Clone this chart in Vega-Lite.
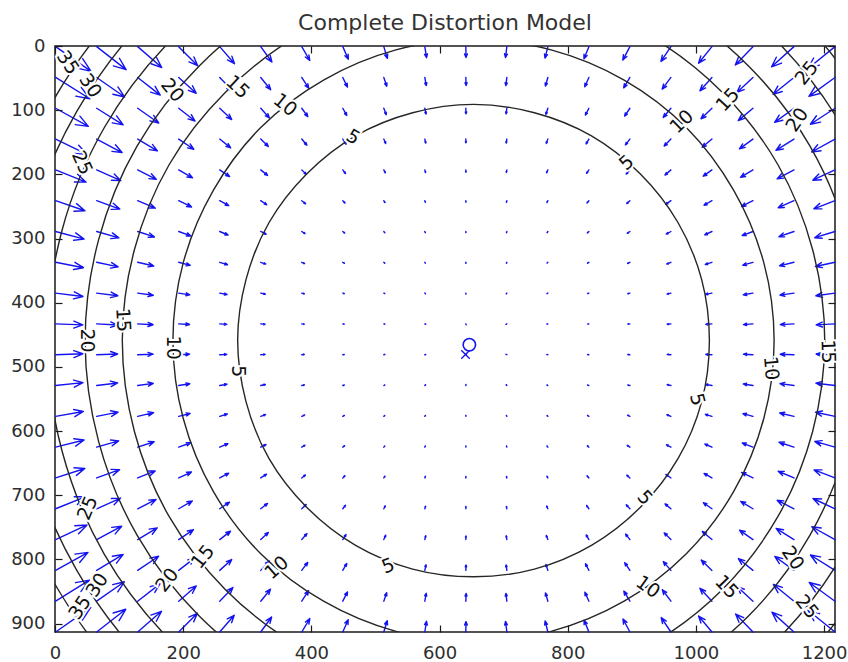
{
"$schema":"https://vega.github.io/schema/vega-lite/v6.json",
"width":780,"height":586,
"autosize":"none",
"padding":{"left":55,"top":46,"right":13,"bottom":30},
"background":"white",
"title":{"text":"Complete Distortion Model","font":"DejaVu Sans","fontSize":22,"fontWeight":"normal","color":"#333333","anchor":"middle","baseline":"alphabetic","offset":16,"dy":31},
"config":{"view":{"stroke":"#1a1a1a","strokeWidth":1.5},"axis":{"grid":false,"domain":false,"labelFont":"DejaVu Sans","labelFontSize":18,"labelColor":"#2e2e2e","tickColor":"#1a1a1a","tickSize":-7,"tickWidth":1.2,"labelFlush":false,"format":"d"}},
"resolve":{"axis":{"x":"independent","y":"independent"}},
"datasets":{
"arrows":[
{"x":1,"y":1,"d":125,"m":37.6},{"x":65,"y":1,"d":128,"m":32.5},{"x":129,"y":1,"d":131,"m":27.7},{"x":193,"y":1,"d":135,"m":23.4},{"x":257,"y":1,"d":139,"m":19.6},{"x":321,"y":1,"d":144,"m":16.5},{"x":385,"y":1,"d":150,"m":13.9},{"x":449,"y":1,"d":156,"m":11.9},{"x":513,"y":1,"d":163,"m":10.6},{"x":577,"y":1,"d":171,"m":9.7},{"x":641,"y":1,"d":179,"m":9.4},{"x":705,"y":1,"d":187,"m":9.5},{"x":769,"y":1,"d":194,"m":10.2},{"x":833,"y":1,"d":202,"m":11.4},{"x":897,"y":1,"d":208,"m":13.2},{"x":961,"y":1,"d":214,"m":15.5},{"x":1025,"y":1,"d":219,"m":18.5},{"x":1089,"y":1,"d":224,"m":22.1},{"x":1153,"y":1,"d":228,"m":26.2},{"x":1217,"y":1,"d":231,"m":30.8},
{"x":1,"y":49,"d":122,"m":35.0},{"x":65,"y":49,"d":125,"m":29.7},{"x":129,"y":49,"d":128,"m":24.9},{"x":193,"y":49,"d":132,"m":20.5},{"x":257,"y":49,"d":136,"m":16.8},{"x":321,"y":49,"d":141,"m":13.7},{"x":385,"y":49,"d":147,"m":11.2},{"x":449,"y":49,"d":154,"m":9.3},{"x":513,"y":49,"d":161,"m":8.0},{"x":577,"y":49,"d":170,"m":7.2},{"x":641,"y":49,"d":178,"m":6.9},{"x":705,"y":49,"d":187,"m":7.1},{"x":769,"y":49,"d":196,"m":7.7},{"x":833,"y":49,"d":204,"m":8.8},{"x":897,"y":49,"d":211,"m":10.5},{"x":961,"y":49,"d":217,"m":12.6},{"x":1025,"y":49,"d":222,"m":15.6},{"x":1089,"y":49,"d":227,"m":19.1},{"x":1153,"y":49,"d":231,"m":23.3},{"x":1217,"y":49,"d":234,"m":28.0},
{"x":1,"y":97,"d":119,"m":32.5},{"x":65,"y":97,"d":122,"m":27.2},{"x":129,"y":97,"d":125,"m":22.3},{"x":193,"y":97,"d":128,"m":18.0},{"x":257,"y":97,"d":133,"m":14.3},{"x":321,"y":97,"d":138,"m":11.3},{"x":385,"y":97,"d":144,"m":8.9},{"x":449,"y":97,"d":151,"m":7.1},{"x":513,"y":97,"d":159,"m":5.9},{"x":577,"y":97,"d":168,"m":5.1},{"x":641,"y":97,"d":178,"m":4.8},{"x":705,"y":97,"d":188,"m":4.9},{"x":769,"y":97,"d":198,"m":5.6},{"x":833,"y":97,"d":207,"m":6.6},{"x":897,"y":97,"d":214,"m":8.2},{"x":961,"y":97,"d":220,"m":10.4},{"x":1025,"y":97,"d":226,"m":13.2},{"x":1089,"y":97,"d":230,"m":16.7},{"x":1153,"y":97,"d":234,"m":20.8},{"x":1217,"y":97,"d":237,"m":25.5},
{"x":1,"y":145,"d":116,"m":30.4},{"x":65,"y":145,"d":118,"m":25.0},{"x":129,"y":145,"d":121,"m":20.0},{"x":193,"y":145,"d":124,"m":15.8},{"x":257,"y":145,"d":129,"m":12.2},{"x":321,"y":145,"d":134,"m":9.2},{"x":385,"y":145,"d":140,"m":6.9},{"x":449,"y":145,"d":147,"m":5.3},{"x":513,"y":145,"d":156,"m":4.1},{"x":577,"y":145,"d":167,"m":3.5},{"x":641,"y":145,"d":178,"m":3.2},{"x":705,"y":145,"d":190,"m":3.4},{"x":769,"y":145,"d":200,"m":3.9},{"x":833,"y":145,"d":210,"m":4.8},{"x":897,"y":145,"d":218,"m":6.3},{"x":961,"y":145,"d":224,"m":8.4},{"x":1025,"y":145,"d":230,"m":11.1},{"x":1089,"y":145,"d":234,"m":14.5},{"x":1153,"y":145,"d":238,"m":18.5},{"x":1217,"y":145,"d":241,"m":23.2},
{"x":1,"y":193,"d":112,"m":28.5},{"x":65,"y":193,"d":114,"m":23.0},{"x":129,"y":193,"d":117,"m":18.1},{"x":193,"y":193,"d":120,"m":13.9},{"x":257,"y":193,"d":124,"m":10.4},{"x":321,"y":193,"d":129,"m":7.6},{"x":385,"y":193,"d":135,"m":5.4},{"x":449,"y":193,"d":143,"m":3.9},{"x":513,"y":193,"d":152,"m":2.8},{"x":577,"y":193,"d":164,"m":2.2},{"x":641,"y":193,"d":178,"m":1.9},{"x":705,"y":193,"d":191,"m":2.1},{"x":769,"y":193,"d":204,"m":2.6},{"x":833,"y":193,"d":214,"m":3.5},{"x":897,"y":193,"d":222,"m":4.8},{"x":961,"y":193,"d":229,"m":6.8},{"x":1025,"y":193,"d":234,"m":9.3},{"x":1089,"y":193,"d":239,"m":12.6},{"x":1153,"y":193,"d":242,"m":16.6},{"x":1217,"y":193,"d":245,"m":21.3},
{"x":1,"y":241,"d":109,"m":26.9},{"x":65,"y":241,"d":110,"m":21.4},{"x":129,"y":241,"d":113,"m":16.6},{"x":193,"y":241,"d":116,"m":12.4},{"x":257,"y":241,"d":119,"m":8.9},{"x":321,"y":241,"d":124,"m":6.2},{"x":385,"y":241,"d":129,"m":4.2},{"x":449,"y":241,"d":137,"m":2.7},{"x":513,"y":241,"d":148,"m":1.8},{"x":577,"y":241,"d":161,"m":1.3},{"x":641,"y":241,"d":177,"m":1.1},{"x":705,"y":241,"d":194,"m":1.2},{"x":769,"y":241,"d":208,"m":1.6},{"x":833,"y":241,"d":220,"m":2.4},{"x":897,"y":241,"d":228,"m":3.6},{"x":961,"y":241,"d":235,"m":5.5},{"x":1025,"y":241,"d":240,"m":7.9},{"x":1089,"y":241,"d":243,"m":11.1},{"x":1153,"y":241,"d":246,"m":15.0},{"x":1217,"y":241,"d":249,"m":19.7},
{"x":1,"y":289,"d":105,"m":25.6},{"x":65,"y":289,"d":106,"m":20.1},{"x":129,"y":289,"d":108,"m":15.3},{"x":193,"y":289,"d":110,"m":11.2},{"x":257,"y":289,"d":113,"m":7.8},{"x":321,"y":289,"d":117,"m":5.2},{"x":385,"y":289,"d":123,"m":3.3},{"x":449,"y":289,"d":130,"m":2.0},{"x":513,"y":289,"d":141,"m":1.1},{"x":577,"y":289,"d":156,"m":0.7},{"x":641,"y":289,"d":176,"m":0.5},{"x":705,"y":289,"d":197,"m":0.6},{"x":769,"y":289,"d":214,"m":0.9},{"x":833,"y":289,"d":227,"m":1.6},{"x":897,"y":289,"d":235,"m":2.7},{"x":961,"y":289,"d":241,"m":4.5},{"x":1025,"y":289,"d":245,"m":6.9},{"x":1089,"y":289,"d":249,"m":10.0},{"x":1153,"y":289,"d":251,"m":13.8},{"x":1217,"y":289,"d":253,"m":18.4},
{"x":1,"y":337,"d":101,"m":24.6},{"x":65,"y":337,"d":102,"m":19.1},{"x":129,"y":337,"d":103,"m":14.3},{"x":193,"y":337,"d":105,"m":10.3},{"x":257,"y":337,"d":107,"m":7.0},{"x":321,"y":337,"d":110,"m":4.5},{"x":385,"y":337,"d":115,"m":2.6},{"x":449,"y":337,"d":121,"m":1.4},{"x":513,"y":337,"d":132,"m":0.7},{"x":577,"y":337,"d":149,"m":0.3},{"x":641,"y":337,"d":175,"m":0.2},{"x":705,"y":337,"d":203,"m":0.3},{"x":769,"y":337,"d":224,"m":0.5},{"x":833,"y":337,"d":236,"m":1.1},{"x":897,"y":337,"d":243,"m":2.1},{"x":961,"y":337,"d":248,"m":3.8},{"x":1025,"y":337,"d":252,"m":6.0},{"x":1089,"y":337,"d":254,"m":9.1},{"x":1153,"y":337,"d":256,"m":12.9},{"x":1217,"y":337,"d":258,"m":17.4},
{"x":1,"y":385,"d":97,"m":23.9},{"x":65,"y":385,"d":97,"m":18.5},{"x":129,"y":385,"d":98,"m":13.7},{"x":193,"y":385,"d":99,"m":9.7},{"x":257,"y":385,"d":101,"m":6.4},{"x":321,"y":385,"d":103,"m":4.0},{"x":385,"y":385,"d":106,"m":2.2},{"x":449,"y":385,"d":110,"m":1.1},{"x":513,"y":385,"d":118,"m":0.4},{"x":577,"y":385,"d":135,"m":0.1},{"x":641,"y":385,"d":172,"m":0.05},{"x":705,"y":385,"d":215,"m":0.1},{"x":769,"y":385,"d":237,"m":0.3},{"x":833,"y":385,"d":247,"m":0.8},{"x":897,"y":385,"d":253,"m":1.7},{"x":961,"y":385,"d":256,"m":3.3},{"x":1025,"y":385,"d":259,"m":5.6},{"x":1089,"y":385,"d":260,"m":8.5},{"x":1153,"y":385,"d":262,"m":12.3},{"x":1217,"y":385,"d":262,"m":16.8},
{"x":1,"y":433,"d":92,"m":23.6},{"x":65,"y":433,"d":93,"m":18.2},{"x":129,"y":433,"d":93,"m":13.4},{"x":193,"y":433,"d":93,"m":9.4},{"x":257,"y":433,"d":94,"m":6.1},{"x":321,"y":433,"d":95,"m":3.7},{"x":385,"y":433,"d":96,"m":2.0},{"x":449,"y":433,"d":98,"m":0.9},{"x":513,"y":433,"d":101,"m":0.3},{"x":577,"y":433,"d":110,"m":0.05},{"x":641,"y":433,"d":158,"m":0},{"x":705,"y":433,"d":243,"m":0.02},{"x":769,"y":433,"d":257,"m":0.2},{"x":833,"y":433,"d":262,"m":0.6},{"x":897,"y":433,"d":264,"m":1.6},{"x":961,"y":433,"d":265,"m":3.1},{"x":1025,"y":433,"d":266,"m":5.3},{"x":1089,"y":433,"d":266,"m":8.2},{"x":1153,"y":433,"d":267,"m":11.9},{"x":1217,"y":433,"d":267,"m":16.4},
{"x":1,"y":481,"d":88,"m":23.6},{"x":65,"y":481,"d":88,"m":18.2},{"x":129,"y":481,"d":88,"m":13.4},{"x":193,"y":481,"d":87,"m":9.4},{"x":257,"y":481,"d":87,"m":6.1},{"x":321,"y":481,"d":86,"m":3.7},{"x":385,"y":481,"d":86,"m":2.0},{"x":449,"y":481,"d":84,"m":0.9},{"x":513,"y":481,"d":81,"m":0.3},{"x":577,"y":481,"d":74,"m":0.05},{"x":641,"y":481,"d":28,"m":0},{"x":705,"y":481,"d":292,"m":0.02},{"x":769,"y":481,"d":280,"m":0.2},{"x":833,"y":481,"d":277,"m":0.6},{"x":897,"y":481,"d":275,"m":1.6},{"x":961,"y":481,"d":274,"m":3.1},{"x":1025,"y":481,"d":273,"m":5.3},{"x":1089,"y":481,"d":273,"m":8.2},{"x":1153,"y":481,"d":272,"m":11.9},{"x":1217,"y":481,"d":272,"m":16.4},
{"x":1,"y":529,"d":84,"m":23.9},{"x":65,"y":529,"d":83,"m":18.4},{"x":129,"y":529,"d":82,"m":13.7},{"x":193,"y":529,"d":81,"m":9.7},{"x":257,"y":529,"d":80,"m":6.4},{"x":321,"y":529,"d":78,"m":4.0},{"x":385,"y":529,"d":75,"m":2.2},{"x":449,"y":529,"d":71,"m":1.0},{"x":513,"y":529,"d":64,"m":0.4},{"x":577,"y":529,"d":47,"m":0.1},{"x":641,"y":529,"d":9,"m":0.04},{"x":705,"y":529,"d":322,"m":0.07},{"x":769,"y":529,"d":300,"m":0.3},{"x":833,"y":529,"d":291,"m":0.8},{"x":897,"y":529,"d":286,"m":1.7},{"x":961,"y":529,"d":283,"m":3.3},{"x":1025,"y":529,"d":280,"m":5.5},{"x":1089,"y":529,"d":279,"m":8.5},{"x":1153,"y":529,"d":278,"m":12.2},{"x":1217,"y":529,"d":277,"m":16.7},
{"x":1,"y":577,"d":80,"m":24.5},{"x":65,"y":577,"d":79,"m":19.0},{"x":129,"y":577,"d":77,"m":14.2},{"x":193,"y":577,"d":76,"m":10.2},{"x":257,"y":577,"d":73,"m":6.9},{"x":321,"y":577,"d":70,"m":4.4},{"x":385,"y":577,"d":66,"m":2.6},{"x":449,"y":577,"d":60,"m":1.4},{"x":513,"y":577,"d":50,"m":0.6},{"x":577,"y":577,"d":33,"m":0.3},{"x":641,"y":577,"d":5,"m":0.15},{"x":705,"y":577,"d":336,"m":0.2},{"x":769,"y":577,"d":315,"m":0.5},{"x":833,"y":577,"d":303,"m":1.1},{"x":897,"y":577,"d":296,"m":2.1},{"x":961,"y":577,"d":291,"m":3.7},{"x":1025,"y":577,"d":287,"m":5.9},{"x":1089,"y":577,"d":285,"m":9.0},{"x":1153,"y":577,"d":283,"m":12.8},{"x":1217,"y":577,"d":282,"m":17.3},
{"x":1,"y":625,"d":76,"m":25.5},{"x":65,"y":625,"d":74,"m":19.9},{"x":129,"y":625,"d":72,"m":15.1},{"x":193,"y":625,"d":70,"m":11.1},{"x":257,"y":625,"d":67,"m":7.7},{"x":321,"y":625,"d":63,"m":5.1},{"x":385,"y":625,"d":58,"m":3.2},{"x":449,"y":625,"d":51,"m":1.9},{"x":513,"y":625,"d":40,"m":1.0},{"x":577,"y":625,"d":24,"m":0.6},{"x":641,"y":625,"d":4,"m":0.45},{"x":705,"y":625,"d":342,"m":0.5},{"x":769,"y":625,"d":325,"m":0.9},{"x":833,"y":625,"d":312,"m":1.6},{"x":897,"y":625,"d":304,"m":2.7},{"x":961,"y":625,"d":298,"m":4.3},{"x":1025,"y":625,"d":294,"m":6.7},{"x":1089,"y":625,"d":291,"m":9.9},{"x":1153,"y":625,"d":288,"m":13.7},{"x":1217,"y":625,"d":286,"m":18.3},
{"x":1,"y":673,"d":72,"m":26.7},{"x":65,"y":673,"d":70,"m":21.2},{"x":129,"y":673,"d":68,"m":16.4},{"x":193,"y":673,"d":65,"m":12.2},{"x":257,"y":673,"d":62,"m":8.8},{"x":321,"y":673,"d":57,"m":6.0},{"x":385,"y":673,"d":51,"m":4.0},{"x":449,"y":673,"d":44,"m":2.6},{"x":513,"y":673,"d":33,"m":1.7},{"x":577,"y":673,"d":19,"m":1.2},{"x":641,"y":673,"d":3,"m":1.0},{"x":705,"y":673,"d":346,"m":1.1},{"x":769,"y":673,"d":331,"m":1.5},{"x":833,"y":673,"d":320,"m":2.3},{"x":897,"y":673,"d":311,"m":3.5},{"x":961,"y":673,"d":305,"m":5.3},{"x":1025,"y":673,"d":300,"m":7.8},{"x":1089,"y":673,"d":296,"m":11.0},{"x":1153,"y":673,"d":293,"m":14.9},{"x":1217,"y":673,"d":291,"m":19.5},
{"x":1,"y":721,"d":68,"m":28.2},{"x":65,"y":721,"d":66,"m":22.8},{"x":129,"y":721,"d":63,"m":17.9},{"x":193,"y":721,"d":60,"m":13.7},{"x":257,"y":721,"d":56,"m":10.2},{"x":321,"y":721,"d":52,"m":7.4},{"x":385,"y":721,"d":46,"m":5.3},{"x":449,"y":721,"d":38,"m":3.7},{"x":513,"y":721,"d":28,"m":2.7},{"x":577,"y":721,"d":16,"m":2.1},{"x":641,"y":721,"d":2,"m":1.8},{"x":705,"y":721,"d":349,"m":1.9},{"x":769,"y":721,"d":336,"m":2.4},{"x":833,"y":721,"d":325,"m":3.3},{"x":897,"y":721,"d":317,"m":4.6},{"x":961,"y":721,"d":310,"m":6.6},{"x":1025,"y":721,"d":305,"m":9.1},{"x":1089,"y":721,"d":301,"m":12.4},{"x":1153,"y":721,"d":297,"m":16.4},{"x":1217,"y":721,"d":295,"m":21.1},
{"x":1,"y":769,"d":65,"m":30.1},{"x":65,"y":769,"d":62,"m":24.7},{"x":129,"y":769,"d":59,"m":19.8},{"x":193,"y":769,"d":56,"m":15.5},{"x":257,"y":769,"d":52,"m":11.9},{"x":321,"y":769,"d":47,"m":9.0},{"x":385,"y":769,"d":41,"m":6.8},{"x":449,"y":769,"d":33,"m":5.1},{"x":513,"y":769,"d":24,"m":4.0},{"x":577,"y":769,"d":14,"m":3.3},{"x":641,"y":769,"d":2,"m":3.0},{"x":705,"y":769,"d":350,"m":3.2},{"x":769,"y":769,"d":339,"m":3.7},{"x":833,"y":769,"d":330,"m":4.6},{"x":897,"y":769,"d":322,"m":6.0},{"x":961,"y":769,"d":315,"m":8.2},{"x":1025,"y":769,"d":310,"m":10.9},{"x":1089,"y":769,"d":305,"m":14.2},{"x":1153,"y":769,"d":302,"m":18.3},{"x":1217,"y":769,"d":299,"m":23.0},
{"x":1,"y":817,"d":61,"m":32.2},{"x":65,"y":817,"d":59,"m":26.9},{"x":129,"y":817,"d":56,"m":22.0},{"x":193,"y":817,"d":52,"m":17.7},{"x":257,"y":817,"d":48,"m":14.0},{"x":321,"y":817,"d":43,"m":11.0},{"x":385,"y":817,"d":37,"m":8.6},{"x":449,"y":817,"d":30,"m":6.9},{"x":513,"y":817,"d":21,"m":5.7},{"x":577,"y":817,"d":12,"m":4.9},{"x":641,"y":817,"d":2,"m":4.6},{"x":705,"y":817,"d":352,"m":4.7},{"x":769,"y":817,"d":342,"m":5.4},{"x":833,"y":817,"d":333,"m":6.4},{"x":897,"y":817,"d":326,"m":8.0},{"x":961,"y":817,"d":319,"m":10.1},{"x":1025,"y":817,"d":314,"m":12.9},{"x":1089,"y":817,"d":309,"m":16.3},{"x":1153,"y":817,"d":306,"m":20.5},{"x":1217,"y":817,"d":302,"m":25.2},
{"x":1,"y":865,"d":58,"m":34.6},{"x":65,"y":865,"d":55,"m":29.4},{"x":129,"y":865,"d":52,"m":24.5},{"x":193,"y":865,"d":49,"m":20.2},{"x":257,"y":865,"d":44,"m":16.5},{"x":321,"y":865,"d":39,"m":13.4},{"x":385,"y":865,"d":33,"m":10.9},{"x":449,"y":865,"d":27,"m":9.0},{"x":513,"y":865,"d":19,"m":7.7},{"x":577,"y":865,"d":10,"m":6.9},{"x":641,"y":865,"d":2,"m":6.6},{"x":705,"y":865,"d":353,"m":6.8},{"x":769,"y":865,"d":344,"m":7.4},{"x":833,"y":865,"d":336,"m":8.5},{"x":897,"y":865,"d":329,"m":10.2},{"x":961,"y":865,"d":323,"m":12.4},{"x":1025,"y":865,"d":317,"m":15.3},{"x":1089,"y":865,"d":313,"m":18.8},{"x":1153,"y":865,"d":309,"m":23.0},{"x":1217,"y":865,"d":306,"m":27.7},
{"x":1,"y":913,"d":55,"m":37.3},{"x":65,"y":913,"d":52,"m":32.1},{"x":129,"y":913,"d":49,"m":27.4},{"x":193,"y":913,"d":45,"m":23.0},{"x":257,"y":913,"d":41,"m":19.2},{"x":321,"y":913,"d":36,"m":16.1},{"x":385,"y":913,"d":31,"m":13.6},{"x":449,"y":913,"d":24,"m":11.6},{"x":513,"y":913,"d":17,"m":10.2},{"x":577,"y":913,"d":9,"m":9.4},{"x":641,"y":913,"d":1,"m":9.0},{"x":705,"y":913,"d":353,"m":9.2},{"x":769,"y":913,"d":346,"m":9.8},{"x":833,"y":913,"d":338,"m":11.1},{"x":897,"y":913,"d":332,"m":12.8},{"x":961,"y":913,"d":326,"m":15.1},{"x":1025,"y":913,"d":320,"m":18.1},{"x":1089,"y":913,"d":316,"m":21.7},{"x":1153,"y":913,"d":312,"m":25.8},{"x":1217,"y":913,"d":309,"m":30.5}
],
"contours":[
{"l":5,"k":0,"x":1021,"y":459},{"l":5,"k":1,"x":1009,"y":554},{"l":5,"k":2,"x":972,"y":643},{"l":5,"k":3,"x":913,"y":719},{"l":5,"k":4,"x":837,"y":778},{"l":5,"k":5,"x":748,"y":815},{"l":5,"k":6,"x":653,"y":827},{"l":5,"k":7,"x":558,"y":815},{"l":5,"k":8,"x":469,"y":778},{"l":5,"k":9,"x":393,"y":719},{"l":5,"k":10,"x":334,"y":643},{"l":5,"k":11,"x":298,"y":554},{"l":5,"k":12,"x":285,"y":459},{"l":5,"k":13,"x":298,"y":364},{"l":5,"k":14,"x":334,"y":275},{"l":5,"k":15,"x":393,"y":199},{"l":5,"k":16,"x":469,"y":140},{"l":5,"k":17,"x":558,"y":104},{"l":5,"k":18,"x":653,"y":91},{"l":5,"k":19,"x":748,"y":104},{"l":5,"k":20,"x":837,"y":140},{"l":5,"k":21,"x":913,"y":199},{"l":5,"k":22,"x":972,"y":275},{"l":5,"k":23,"x":1009,"y":364},
{"l":10,"k":0,"x":1122,"y":459},{"l":10,"k":1,"x":1106,"y":580},{"l":10,"k":2,"x":1059,"y":694},{"l":10,"k":3,"x":985,"y":791},{"l":10,"k":4,"x":888,"y":865},{"l":10,"k":5,"x":774,"y":912},{"l":10,"k":6,"x":653,"y":928},{"l":10,"k":7,"x":532,"y":912},{"l":10,"k":8,"x":419,"y":865},{"l":10,"k":9,"x":321,"y":791},{"l":10,"k":10,"x":247,"y":694},{"l":10,"k":11,"x":200,"y":580},{"l":10,"k":12,"x":184,"y":459},{"l":10,"k":13,"x":200,"y":338},{"l":10,"k":14,"x":247,"y":225},{"l":10,"k":15,"x":321,"y":127},{"l":10,"k":16,"x":419,"y":53},{"l":10,"k":17,"x":532,"y":6},{"l":10,"k":18,"x":653,"y":-10},{"l":10,"k":19,"x":774,"y":6},{"l":10,"k":20,"x":888,"y":53},{"l":10,"k":21,"x":985,"y":127},{"l":10,"k":22,"x":1059,"y":225},{"l":10,"k":23,"x":1106,"y":338},
{"l":15,"k":0,"x":1201,"y":459},{"l":15,"k":1,"x":1182,"y":601},{"l":15,"k":2,"x":1128,"y":733},{"l":15,"k":3,"x":1041,"y":847},{"l":15,"k":4,"x":927,"y":934},{"l":15,"k":5,"x":795,"y":988},{"l":15,"k":6,"x":653,"y":1007},{"l":15,"k":7,"x":511,"y":988},{"l":15,"k":8,"x":379,"y":934},{"l":15,"k":9,"x":266,"y":847},{"l":15,"k":10,"x":178,"y":733},{"l":15,"k":11,"x":124,"y":601},{"l":15,"k":12,"x":105,"y":459},{"l":15,"k":13,"x":124,"y":317},{"l":15,"k":14,"x":178,"y":185},{"l":15,"k":15,"x":266,"y":72},{"l":15,"k":16,"x":379,"y":-16},{"l":15,"k":17,"x":511,"y":-70},{"l":15,"k":18,"x":653,"y":-89},{"l":15,"k":19,"x":795,"y":-70},{"l":15,"k":20,"x":927,"y":-16},{"l":15,"k":21,"x":1041,"y":72},{"l":15,"k":22,"x":1128,"y":185},{"l":15,"k":23,"x":1182,"y":317},
{"l":20,"k":0,"x":1259,"y":459},{"l":20,"k":1,"x":1238,"y":616},{"l":20,"k":2,"x":1178,"y":762},{"l":20,"k":3,"x":1082,"y":888},{"l":20,"k":4,"x":956,"y":984},{"l":20,"k":5,"x":810,"y":1044},{"l":20,"k":6,"x":653,"y":1065},{"l":20,"k":7,"x":496,"y":1044},{"l":20,"k":8,"x":350,"y":984},{"l":20,"k":9,"x":225,"y":888},{"l":20,"k":10,"x":128,"y":762},{"l":20,"k":11,"x":68,"y":616},{"l":20,"k":12,"x":47,"y":459},{"l":20,"k":13,"x":68,"y":302},{"l":20,"k":14,"x":128,"y":156},{"l":20,"k":15,"x":225,"y":31},{"l":20,"k":16,"x":350,"y":-66},{"l":20,"k":17,"x":496,"y":-126},{"l":20,"k":18,"x":653,"y":-147},{"l":20,"k":19,"x":810,"y":-126},{"l":20,"k":20,"x":956,"y":-66},{"l":20,"k":21,"x":1082,"y":31},{"l":20,"k":22,"x":1178,"y":156},{"l":20,"k":23,"x":1238,"y":302},
{"l":25,"k":0,"x":1318,"y":459},{"l":25,"k":1,"x":1295,"y":631},{"l":25,"k":2,"x":1229,"y":792},{"l":25,"k":3,"x":1123,"y":929},{"l":25,"k":4,"x":986,"y":1035},{"l":25,"k":5,"x":825,"y":1101},{"l":25,"k":6,"x":653,"y":1124},{"l":25,"k":7,"x":481,"y":1101},{"l":25,"k":8,"x":321,"y":1035},{"l":25,"k":9,"x":183,"y":929},{"l":25,"k":10,"x":77,"y":792},{"l":25,"k":11,"x":11,"y":631},{"l":25,"k":12,"x":-12,"y":459},{"l":25,"k":13,"x":11,"y":287},{"l":25,"k":14,"x":77,"y":127},{"l":25,"k":15,"x":183,"y":-11},{"l":25,"k":16,"x":321,"y":-117},{"l":25,"k":17,"x":481,"y":-183},{"l":25,"k":18,"x":653,"y":-206},{"l":25,"k":19,"x":825,"y":-183},{"l":25,"k":20,"x":986,"y":-117},{"l":25,"k":21,"x":1123,"y":-11},{"l":25,"k":22,"x":1229,"y":127},{"l":25,"k":23,"x":1295,"y":287},
{"l":30,"k":0,"x":1368,"y":459},{"l":30,"k":1,"x":1344,"y":644},{"l":30,"k":2,"x":1272,"y":817},{"l":30,"k":3,"x":1159,"y":965},{"l":30,"k":4,"x":1011,"y":1078},{"l":30,"k":5,"x":838,"y":1150},{"l":30,"k":6,"x":653,"y":1174},{"l":30,"k":7,"x":468,"y":1150},{"l":30,"k":8,"x":296,"y":1078},{"l":30,"k":9,"x":147,"y":965},{"l":30,"k":10,"x":34,"y":817},{"l":30,"k":11,"x":-38,"y":644},{"l":30,"k":12,"x":-62,"y":459},{"l":30,"k":13,"x":-38,"y":274},{"l":30,"k":14,"x":34,"y":102},{"l":30,"k":15,"x":147,"y":-47},{"l":30,"k":16,"x":296,"y":-160},{"l":30,"k":17,"x":468,"y":-232},{"l":30,"k":18,"x":653,"y":-256},{"l":30,"k":19,"x":838,"y":-232},{"l":30,"k":20,"x":1011,"y":-160},{"l":30,"k":21,"x":1159,"y":-47},{"l":30,"k":22,"x":1272,"y":102},{"l":30,"k":23,"x":1344,"y":274},
{"l":35,"k":0,"x":1408,"y":459},{"l":35,"k":1,"x":1382,"y":654},{"l":35,"k":2,"x":1307,"y":837},{"l":35,"k":3,"x":1187,"y":993},{"l":35,"k":4,"x":1031,"y":1113},{"l":35,"k":5,"x":848,"y":1188},{"l":35,"k":6,"x":653,"y":1214},{"l":35,"k":7,"x":458,"y":1188},{"l":35,"k":8,"x":276,"y":1113},{"l":35,"k":9,"x":119,"y":993},{"l":35,"k":10,"x":-1,"y":837},{"l":35,"k":11,"x":-76,"y":654},{"l":35,"k":12,"x":-102,"y":459},{"l":35,"k":13,"x":-76,"y":264},{"l":35,"k":14,"x":-1,"y":82},{"l":35,"k":15,"x":119,"y":-75},{"l":35,"k":16,"x":276,"y":-195},{"l":35,"k":17,"x":458,"y":-270},{"l":35,"k":18,"x":653,"y":-296},{"l":35,"k":19,"x":848,"y":-270},{"l":35,"k":20,"x":1031,"y":-195},{"l":35,"k":21,"x":1187,"y":-75},{"l":35,"k":22,"x":1307,"y":82},{"l":35,"k":23,"x":1382,"y":264}
],
"labels":[
{"t":"35","x":20,"y":26,"a":56},{"t":"30","x":55,"y":62,"a":56},{"t":"20","x":183,"y":69,"a":50},{"t":"15","x":285,"y":64,"a":43},{"t":"10","x":359,"y":92,"a":39},{"t":"5","x":465,"y":142,"a":31},{"t":"25","x":42,"y":182,"a":66},
{"t":"20","x":50,"y":459,"a":90},{"t":"15","x":106,"y":427,"a":87},{"t":"10","x":184,"y":470,"a":90},{"t":"5","x":285,"y":507,"a":90},
{"t":"25","x":51,"y":720,"a":-67},{"t":"35","x":39,"y":875,"a":-56},{"t":"30","x":66,"y":840,"a":-57},{"t":"20","x":175,"y":832,"a":-52},{"t":"15","x":231,"y":796,"a":-51},{"t":"10","x":346,"y":813,"a":-41},{"t":"5","x":520,"y":810,"a":-21},
{"t":"10","x":925,"y":843,"a":35},{"t":"15","x":1048,"y":843,"a":46},{"t":"20","x":1151,"y":798,"a":56},{"t":"25","x":1173,"y":874,"a":51},{"t":"5","x":920,"y":704,"a":47},
{"t":"5","x":1002,"y":551,"a":75},{"t":"10","x":1117,"y":502,"a":85},{"t":"15","x":1206,"y":476,"a":88},
{"t":"5","x":892,"y":182,"a":-41},{"t":"10","x":978,"y":118,"a":-44},{"t":"15","x":1050,"y":84,"a":-47},{"t":"20","x":1158,"y":115,"a":-56},{"t":"25","x":1173,"y":42,"a":-51}
],
"pp":[{"x":646.5,"y":465.5}],
"ic":[{"x":640.5,"y":480.5}]
},
"layer":[
{"data":{"name":"arrows"},
 "mark":{"type":"point","shape":"M0,0L0,-1M-0.13,-0.67L0,-1L0.13,-0.67","filled":false,"stroke":"#1414f0","strokeWidth":1.4,"strokeCap":"round","strokeJoin":"round","opacity":1},
 "encoding":{
  "x":{"field":"x","type":"quantitative","scale":{"domain":[0,1217],"nice":false,"zero":false},"axis":{"orient":"top","values":[0,200,400,600,800,1000,1200],"labels":false,"title":null,"zindex":1}},
  "y":{"field":"y","type":"quantitative","scale":{"domain":[0,913],"reverse":true,"nice":false,"zero":false},"axis":{"orient":"right","values":[0,100,200,300,400,500,600,700,800,900],"labels":false,"title":null,"zindex":1}},
  "angle":{"field":"d","type":"quantitative","scale":null},
  "size":{"field":"m","type":"quantitative","scale":{"type":"pow","exponent":2,"domain":[0,40],"range":[4,8464]},"legend":null}
 }},
{"data":{"name":"contours"},
 "mark":{"type":"line","interpolate":"cardinal-closed","clip":true,"stroke":"#262626","strokeWidth":1.4},
 "encoding":{
  "x":{"field":"x","type":"quantitative","scale":{"domain":[0,1217],"nice":false,"zero":false},"axis":{"orient":"bottom","values":[0,200,400,600,800,1000,1200],"title":null,"labelPadding":19,"zindex":1}},
  "y":{"field":"y","type":"quantitative","scale":{"domain":[0,913],"reverse":true,"nice":false,"zero":false},"axis":{"orient":"left","values":[0,100,200,300,400,500,600,700,800,900],"title":null,"labelPadding":17,"zindex":1}},
  "detail":{"field":"l","type":"nominal"},
  "order":{"field":"k","type":"quantitative"}
 }},
{"data":{"name":"labels"},
 "mark":{"type":"text","font":"DejaVu Sans","fontSize":19,"align":"center","baseline":"middle","color":"white","stroke":"white","strokeWidth":4},
 "encoding":{
  "x":{"field":"x","type":"quantitative","scale":{"domain":[0,1217],"nice":false,"zero":false},"axis":null},
  "y":{"field":"y","type":"quantitative","scale":{"domain":[0,913],"reverse":true,"nice":false,"zero":false},"axis":null},
  "text":{"field":"t","type":"nominal"},
  "angle":{"field":"a","type":"quantitative","scale":null}
 }},
{"data":{"name":"labels"},
 "mark":{"type":"text","font":"DejaVu Sans","fontSize":19,"align":"center","baseline":"middle","color":"#111111"},
 "encoding":{
  "x":{"field":"x","type":"quantitative","scale":{"domain":[0,1217],"nice":false,"zero":false},"axis":null},
  "y":{"field":"y","type":"quantitative","scale":{"domain":[0,913],"reverse":true,"nice":false,"zero":false},"axis":null},
  "text":{"field":"t","type":"nominal"},
  "angle":{"field":"a","type":"quantitative","scale":null}
 }},
{"data":{"name":"pp"},
 "mark":{"type":"point","shape":"circle","size":154,"filled":false,"stroke":"#1414f0","strokeWidth":1.6,"opacity":1},
 "encoding":{
  "x":{"field":"x","type":"quantitative","scale":{"domain":[0,1217],"nice":false,"zero":false},"axis":null},
  "y":{"field":"y","type":"quantitative","scale":{"domain":[0,913],"reverse":true,"nice":false,"zero":false},"axis":null}
 }},
{"data":{"name":"ic"},
 "mark":{"type":"point","shape":"M-1,-1L1,1M-1,1L1,-1","size":72,"filled":false,"stroke":"#1414f0","strokeWidth":1.4,"opacity":1},
 "encoding":{
  "x":{"field":"x","type":"quantitative","scale":{"domain":[0,1217],"nice":false,"zero":false},"axis":null},
  "y":{"field":"y","type":"quantitative","scale":{"domain":[0,913],"reverse":true,"nice":false,"zero":false},"axis":null}
 }}
]
}
